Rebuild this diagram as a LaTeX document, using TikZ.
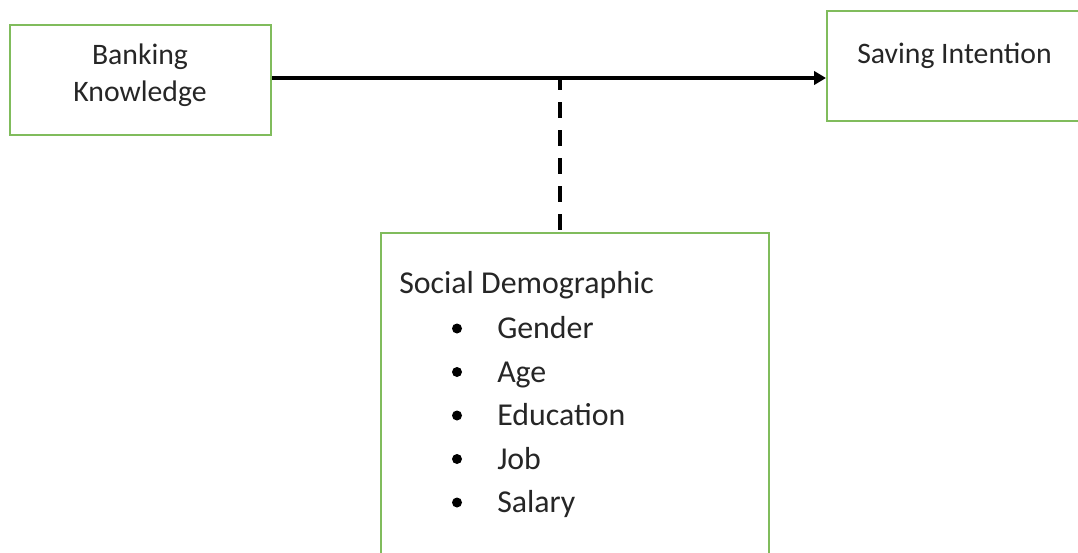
\documentclass[tikz,border=0pt]{standalone}
\usepackage{fontspec}
\setmainfont{Carlito}
\usetikzlibrary{arrows.meta}
\definecolor{boxgreen}{RGB}{128,188,92}
\definecolor{inktext}{RGB}{38,38,38}
\begin{document}
\begin{tikzpicture}[x=0.75pt,y=-0.75pt,
  framebox/.style={draw=boxgreen,line width=1.5pt,rectangle,inner sep=0pt},
  label/.style={anchor=base,inner sep=0pt,text=inktext,
    font=\fontsize{22.3}{29}\selectfont},
  leftlabel/.style={label,anchor=base west},
  listlabel/.style={leftlabel,font=\fontsize{23.9}{29}\selectfont},
  dot/.style={circle,fill=black,inner sep=0pt,minimum size=7.5pt},
  link/.style={line width=2.6pt,-{Triangle[length=9pt,width=10pt]}},
  moderator/.style={line width=2.6pt,dash pattern=on 12pt off 9pt,dash phase=3pt}]
\useasboundingbox (0,0) rectangle (1078,553);
\clip (0,0) rectangle (1078,553);
\fill[white] (0,0) rectangle (1078,553);

% boxes
\node[framebox,minimum width=261*0.75pt,minimum height=110*0.75pt] (banking) at (140.5,80) {};
\node[framebox,minimum width=273*0.75pt,minimum height=110*0.75pt] (saving) at (963.5,66) {};
\node[framebox,minimum width=388*0.75pt,minimum height=360*0.75pt] (social) at (575,413) {};

% box texts
\node[label] (bk1) at (140,64) {Banking};
\node[label] (bk2) at (140,101) {Knowledge};
\node[leftlabel] (si) at (857,63) {Saving Intention};
\node[listlabel] (sd) at (399,293) {Social Demographic};

% bullet list
\foreach \name/\txt/\y in {gender/Gender/338.5, age/Age/382, edu/Education/425.5, job/Job/469, salary/Salary/512.5}{
  \node[dot] (b-\name) at (457,\y-10) {};
  \node[listlabel] (t-\name) at (497,\y) {\txt};
}

% connectors
\coordinate (junction) at (560,78);
\draw[link] (banking.east |- junction) -- (saving.west |- junction);
\draw[moderator] (junction) -- (junction |- social.north);
\end{tikzpicture}
\end{document}
